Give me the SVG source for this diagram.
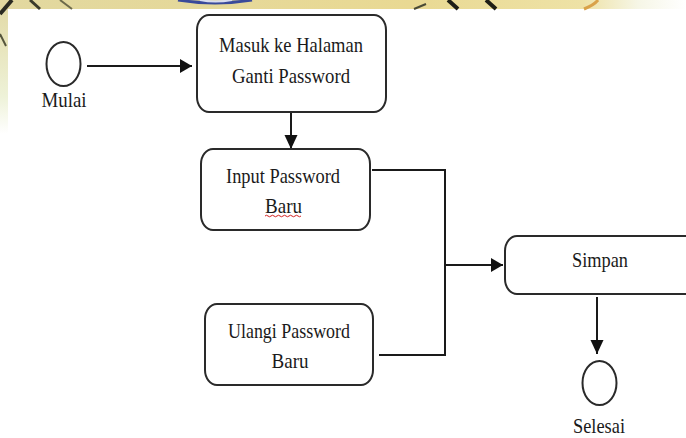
<svg xmlns="http://www.w3.org/2000/svg" width="686" height="438" viewBox="0 0 686 438">
  <style>
    .box { fill: #ffffff; stroke: #2a2a2a; stroke-width: 2; }
    .ev { fill: #ffffff; stroke: #2a2a2a; stroke-width: 2; }
    .lbl { font-family: "Liberation Serif", "Times New Roman", serif; font-size: 22px; fill: #1a1a1a; text-anchor: middle; }
    .ln { fill: none; stroke: #1a1a1a; stroke-width: 2; }
  </style>
  <defs>
    <marker id="ah" markerUnits="userSpaceOnUse" markerWidth="13" markerHeight="15" refX="12" refY="7" orient="auto">
      <path d="M0,0 L12,7 L0,14 z" fill="#111"/>
    </marker>
    <marker id="av" markerUnits="userSpaceOnUse" markerWidth="15" markerHeight="14" refX="14" refY="6.5" orient="auto">
      <path d="M0,0 L14,6.5 L0,13 z" fill="#111"/>
    </marker>
    <linearGradient id="band" x1="0" y1="0" x2="1" y2="0">
      <stop offset="0" stop-color="#e2d8a0"/>
      <stop offset="0.6" stop-color="#e9d993"/>
      <stop offset="0.85" stop-color="#eee2a6"/>
      <stop offset="0.93" stop-color="#f6f6e6"/>
      <stop offset="1" stop-color="#ffffff"/>
    </linearGradient>
    <linearGradient id="strip" x1="0" y1="0" x2="0" y2="1">
      <stop offset="0" stop-color="#e3dba8"/>
      <stop offset="0.7" stop-color="#eef2d8"/>
      <stop offset="1" stop-color="#ffffff"/>
    </linearGradient>
  </defs>

  <rect x="0" y="0" width="686" height="438" fill="#ffffff"/>
  <!-- background watermark remnants -->
  <g id="background">
    <rect x="0" y="0" width="686" height="9" fill="url(#band)"/>
    <rect x="0" y="9" width="8" height="125" fill="url(#strip)"/>
    <path d="M0,14 L12,0" stroke="#2b2b22" stroke-width="4" fill="none"/>
    <path d="M30,0 L40,9" stroke="#3a3a2a" stroke-width="3" fill="none"/>
    <path d="M60,0 L72,9" stroke="#6d6a4a" stroke-width="2" fill="none"/>
    <path d="M0,34 L6,46" stroke="#55553c" stroke-width="2" fill="none"/>
    <path d="M178,0 Q215,6 252,0" stroke="#3a4a9a" stroke-width="3" fill="none"/>
    <path d="M200,0 Q215,3 232,0" stroke="#d8dcf0" stroke-width="2" fill="none"/>
    <path d="M448,0 L458,9" stroke="#1e1e16" stroke-width="4" fill="none"/>
    <path d="M486,0 L496,9" stroke="#1e1e16" stroke-width="4" fill="none"/>
    <path d="M414,9 L426,4" stroke="#4a4a36" stroke-width="2" fill="none"/>
    <path d="M584,9 Q594,5 598,0" stroke="#d9a24a" stroke-width="3" fill="none"/>
  </g>

  <g id="connectors">
    <line class="ln" x1="87" y1="66" x2="192" y2="66" marker-end="url(#ah)"/>
    <line class="ln" x1="291" y1="113" x2="291" y2="149" marker-end="url(#av)"/>
    <polyline class="ln" points="372,170 445,170 445,355 379,355"/>
    <line class="ln" x1="445" y1="265" x2="503" y2="265" marker-end="url(#ah)"/>
    <line class="ln" x1="597" y1="297" x2="597" y2="354" marker-end="url(#av)"/>
  </g>

  <g id="start">
    <ellipse class="ev" cx="63.5" cy="64" rx="17" ry="22"/>
    <text class="lbl" x="64" y="107" textLength="45" lengthAdjust="spacingAndGlyphs">Mulai</text>
  </g>

  <g id="masuk">
    <rect class="box" x="197" y="15" width="189" height="97" rx="12" ry="15"/>
    <text class="lbl" x="291" y="52" textLength="144" lengthAdjust="spacingAndGlyphs">Masuk ke Halaman</text>
    <text class="lbl" x="291" y="83" textLength="118" lengthAdjust="spacingAndGlyphs">Ganti Password</text>
  </g>

  <g id="input">
    <rect class="box" x="201" y="149" width="169" height="81" rx="12" ry="15"/>
    <text class="lbl" x="283" y="183" textLength="114" lengthAdjust="spacingAndGlyphs">Input Password</text>
    <text class="lbl" x="283.5" y="213" textLength="37" lengthAdjust="spacingAndGlyphs">Baru</text>
    <path d="M265,216 q1.5,-1.5 3,0 t3,0 t3,0 t3,0 t3,0 t3,0 t3,0 t3,0 t3,0 t3,0 t3,0 t3,0" fill="none" stroke="#d42020" stroke-width="1"/>
  </g>

  <g id="ulangi">
    <rect class="box" x="205" y="304" width="168" height="81" rx="12" ry="15"/>
    <text class="lbl" x="289" y="338" textLength="122" lengthAdjust="spacingAndGlyphs">Ulangi Password</text>
    <text class="lbl" x="290" y="368" textLength="37" lengthAdjust="spacingAndGlyphs">Baru</text>
  </g>

  <g id="simpan">
    <rect class="box" x="505" y="236" width="200" height="58" rx="12" ry="15"/>
    <text class="lbl" x="600" y="267" textLength="56" lengthAdjust="spacingAndGlyphs">Simpan</text>
  </g>

  <g id="end">
    <ellipse class="ev" cx="599.5" cy="383" rx="17" ry="22"/>
    <text class="lbl" x="599" y="433" textLength="52" lengthAdjust="spacingAndGlyphs">Selesai</text>
  </g>
</svg>
